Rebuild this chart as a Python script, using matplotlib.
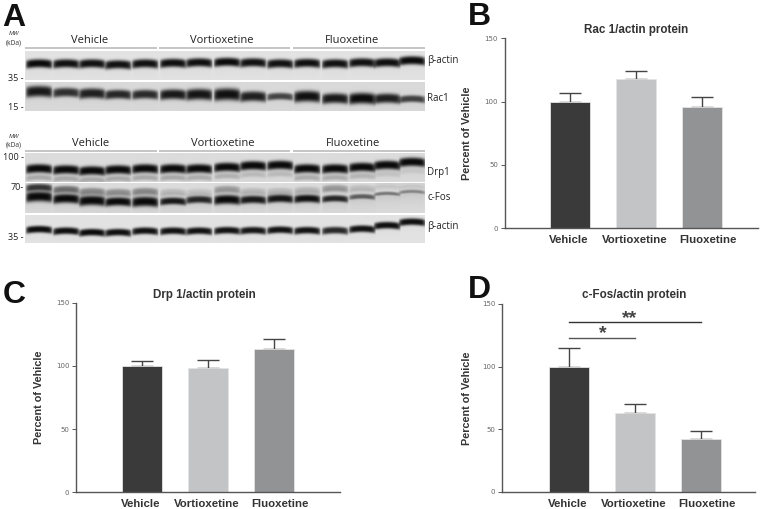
import numpy as np
import matplotlib
matplotlib.use('Agg')
import matplotlib.pyplot as plt

W, H = 771, 509

# bar chart data
groups = ['Vehicle', 'Vortioxetine', 'Fluoxetine']
label_shift = [-0.025, -0.015, 0.095]
bar_colors = ['#3a3a3a', '#c3c4c6', '#929395']
yticks = [0, 50, 100, 150]

rac1_vals = [100, 117.5, 96]
rac1_err = [6.5, 6.5, 8]
drp1_vals = [100, 98.5, 113.5]
drp1_err = [3.5, 6, 7.5]
cfos_vals = [100, 63, 42.5]
cfos_err = [14.5, 7, 6]

# blot lanes (one entry per lane, picture pixels)
lane_x = [39, 66, 92, 118, 145, 173, 199, 227, 253, 280, 307, 335, 362, 387, 412]

actin1_y = [63, 63, 63, 64, 63, 62.5, 62, 61.5, 62, 63, 62.5, 63, 62, 62, 60]
actin1_d = [.95, .92, .92, .92, .92, .93, .93, .95, .92, .92, .93, .92, .92, .93, .95]
rac_y = [91, 92, 93, 94, 94, 94, 94, 94, 96, 96, 96, 98, 98, 98, 98.5]
rac_d = [.88, .78, .85, .82, .8, .88, .9, .92, .85, .68, .92, .88, .95, .85, .7]
rac_h = [5.5, 4.5, 5, 4.5, 4.5, 5, 5.5, 6, 5, 3.5, 5.5, 5, 5.5, 4.8, 3.5]

drp_y = [169, 170, 171, 170, 169, 169, 169, 167.5, 166, 165.5, 169, 169, 167.5, 165.5, 162.5]
drp_d = [.95] * 15
drp_faint = [.2, .2, .2, .2, .2, .2, .18, .16, .12, .12, .18, .18, .14, .08, .06]

fos_y = [197, 199, 201, 202, 202, 201.5, 200, 200, 200, 199, 199, 199, 197, 194, 192]
fos_d = [.95, .95, .95, .95, .95, .88, .82, .95, .88, .9, .92, .82, .55, .42, .35]
fos_h = [5, 4.5, 4.8, 4.2, 4.8, 3.5, 3.5, 4.5, 3.8, 3.8, 3.8, 3.2, 2.4, 1.7, 1.7]
fos_up_y = [188, 190, 192, 193, 192, 193, 193, 190, 192, 192, 191, 189, 189, 186, 186]
fos_up_d = [.75, .5, .38, .35, .38, .16, .12, .3, .16, .16, .18, .3, .14, .06, .06]

actin2_y = [229, 230.5, 232, 232, 230.5, 230.5, 230.5, 230, 230, 229.5, 230, 230, 228.5, 225, 221.5]
actin2_d = [.95, .93, .95, .93, .92, .92, .92, .92, .9, .92, .92, .82, .92, .93, .93]

blot_labels = ['Vehicle', 'Vortioxetine', 'Fluoxetine']


def make_row(y0, y1, ys, ds, hs=None, smear=0.08, bg=0.87):
    # darkness map for one blot strip, drawn at 3x
    xs = np.arange(25, 425, 1 / 3)
    yy = np.arange(y0, y1, 1 / 3)
    X, Y = np.meshgrid(xs, yy)
    img = np.full(X.shape, float(bg))
    if hs is None:
        hs = [3] * len(ys)
    for lx, ly, d, h in zip(lane_x, ys, ds, hs):
        u = (X - lx) / 13.8
        across = np.clip(1 - u ** 8, 0, 1)
        bend = 1.4 * u ** 2
        dy = Y - (ly + bend)
        band = np.exp(-np.abs(dy / h) ** 3) * across
        tail = np.exp(-np.clip(dy, 0, None) / 8) * (dy > 0) * across * smear
        img *= (1 - d * band) * (1 - tail)
    return img


fig = plt.figure(figsize=(W / 100, H / 100), dpi=100, facecolor='white')
px = fig.add_axes([0, 0, 1, 1])
px.axis('off')


def put_row(img, y0, y1):
    px.imshow(img, extent=[25, 425, y1, y0], cmap='gray', vmin=0, vmax=1,
              aspect='auto', interpolation='bilinear', zorder=1)


put_row(make_row(51, 79.5, actin1_y, actin1_d, [4.2] * 15, smear=0.06, bg=0.89), 51, 79.5)
put_row(make_row(82, 111, rac_y, rac_d, rac_h, smear=0.04, bg=0.85), 82, 111)

drp = make_row(154, 182.5, drp_y, drp_d, [4.3] * 15, smear=0.12, bg=0.86)
drp *= make_row(154, 182.5, [y + 9 for y in drp_y], drp_faint, [2.5] * 15, smear=0, bg=1.0)
put_row(drp, 154, 182.5)

fos = make_row(184, 213.5, fos_y, fos_d, fos_h, smear=0.1, bg=0.86)
fos *= make_row(184, 213.5, fos_up_y, fos_up_d, [3.5] * 15, smear=0.05, bg=1.0)
put_row(fos, 184, 213.5)

put_row(make_row(215, 243, actin2_y, actin2_d, [3.5] * 15, smear=0.03, bg=0.89), 215, 243)

px.set_xlim(0, W)
px.set_ylim(H, 0)

# blot labels
for top, rule, centers in [(40, 47.5, [90, 222, 352]), (143, 150.5, [91, 223, 353])]:
    for name, c, x0, x1 in zip(blot_labels, centers, [25, 159, 293], [157, 290, 425]):
        px.plot([x0, x1], [rule, rule], color='#b5b5b5', lw=1.1, solid_capstyle='butt', zorder=2)
        px.text(c, top, name, family='Open Sans', fontsize=8, color='#222222',
                ha='center', va='center')
    px.text(14, rule - 14, 'MW', family='Open Sans', style='italic', fontsize=4.5,
            color='#333333', ha='center', va='center')
    px.text(14, rule - 5, '(kDa)', family='Open Sans', fontsize=4.8,
            color='#333333', ha='center', va='center')

for txt, x, y in [('35 -', 24, 78), ('15 -', 24, 107), ('100 -', 24, 157),
                  ('70-', 24, 187), ('35 -', 24, 238)]:
    px.text(x, y, txt, family='Open Sans', fontsize=6.5, color='#222222', ha='right', va='center')

for txt, y in [('β-actin', 60), ('Rac1', 98), ('Drp1', 173), ('c-Fos', 197), ('β-actin', 227)]:
    px.text(427, y, txt, family='Open Sans', fontsize=7, color='#222222', ha='left', va='center')

for txt, x, y in [('A', 14, 26), ('B', 479.5, 25), ('C', 14, 303), ('D', 479.5, 298)]:
    px.text(x, y, txt, family='Liberation Sans', weight='bold', fontsize=23, color='#111111',
            ha='center', va='baseline')


def bar_panel(left, right, y0, y150, bar0, title, title_x, vals, errs, label_x):
    # axes placed by picture pixels, bar spacing is 66 px
    ax = fig.add_axes([left / W, 1 - y0 / H, (right - left) / W, (y0 - y150) / H])
    ax.patch.set_alpha(0)
    ax.set_xlim((left - bar0) / 66, (right - bar0) / 66)
    ax.set_ylim(0, 150)
    x = np.arange(3)
    ax.bar(x, vals, width=0.61, color=bar_colors, edgecolor='#e4e4e4', linewidth=0.6, zorder=2)
    ax.errorbar(x, vals, yerr=[[0] * 3, errs], fmt='none', ecolor='#444444', elinewidth=1,
                capsize=8, capthick=1, zorder=1)
    for s in ['top', 'right']:
        ax.spines[s].set_visible(False)
    for s in ['left', 'bottom']:
        ax.spines[s].set_color('#555555')
        ax.spines[s].set_linewidth(1)
    ax.set_yticks(yticks)
    ax.tick_params(axis='y', length=2.7, width=0.7, color='#555555', labelsize=5,
                   labelcolor='#666666', pad=2)
    ax.set_xticks(x + np.array(label_shift))
    ax.set_xticklabels(groups, family='Liberation Sans', weight='bold', fontsize=8.2,
                       color='#333333')
    ax.tick_params(axis='x', length=0, pad=5)
    ax.set_ylabel('Percent of Vehicle', family='Liberation Sans', weight='bold', fontsize=7.8,
                  color='#333333')
    ax.yaxis.set_label_coords((label_x - left) / (right - left), 0.5)
    px.text(title_x, y150 - 8 if y150 < 300 else 295, title, family='Liberation Sans',
            weight='bold', fontsize=8.4, color='#333333', ha='center', va='center')
    return ax


bar_panel(504.5, 758, 228.3, 38.3, 570, 'Rac 1/actin protein', 636, rac1_vals, rac1_err, 472)
bar_panel(76, 340, 492.3, 302.7, 142, 'Drp 1/actin protein', 204.5, drp1_vals, drp1_err, 44)
ax_d = bar_panel(502, 755, 491.7, 304, 569, 'c-Fos/actin protein', 634.5, cfos_vals, cfos_err, 472)

# significance lines in D
ax_d.plot([0, 2], [136, 136], color='#333333', lw=1)
ax_d.plot([0, 1], [123, 123], color='#555555', lw=1)
ax_d.text(0.92, 138.5, '**', family='Liberation Sans', weight='bold', fontsize=14, color='#444444',
          ha='center', va='center')
ax_d.text(0.51, 126, '*', family='Liberation Sans', weight='bold', fontsize=14, color='#444444',
          ha='center', va='center')

fig.savefig('out.png', dpi=100)
